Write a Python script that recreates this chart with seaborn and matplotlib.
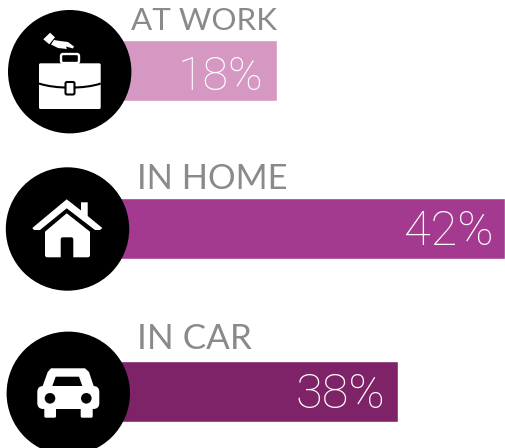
import matplotlib
matplotlib.use("Agg")
import matplotlib.pyplot as plt
import pandas as pd
import seaborn as sns
from matplotlib.patches import Circle, FancyBboxPatch, Polygon, PathPatch
from matplotlib.path import Path

categories = ["AT WORK", "IN HOME", "IN CAR"]
percent_labels = [18, 42, 38]
drawn_lengths = [18, 42, 30.7]   # bar lengths as drawn (the IN CAR bar is shorter than its label)
rows = [0.0, 1.0, 2.0336]
colors = ["#D598C2", "#A33A90", "#7F2368"]
GREY = "#8A8A8D"

W, H = 505, 448
sns.set_theme(style="white")
plt.rcParams["font.family"] = ["Lato", "DejaVu Sans"]

fig = plt.figure(figsize=(W / 100, H / 100), dpi=100)
ax = fig.add_axes([0, 0, 1, 1])

df = pd.DataFrame({"category": categories, "row": rows, "length": drawn_lengths})
sns.barplot(data=df, x="length", y="row", hue="category", palette=colors, orient="h",
            native_scale=True, dodge=False, legend=False, width=61 / 157.85, saturation=1, ax=ax)

px_per_unit = 9.5
zero_px = 106
px_per_row = 157.85
top_row_px = 70.35
ax.set_xlim(-zero_px / px_per_unit, (W - zero_px) / px_per_unit)
ax.set_ylim((H - top_row_px) / px_per_row, -top_row_px / px_per_row)
ax.axis("off")

label_offsets = [(-13.5, -6.35), (-11.8, -3.85), (-12.5, -3.35)]
label_sizes = [33.5, 35, 35]
for length, row, pct, off, size in zip(drawn_lengths, rows, percent_labels, label_offsets, label_sizes):
    ax.annotate(f"{pct}%", xy=(length, row), xytext=off, textcoords="offset pixels",
                ha="right", va="center", color="white", fontsize=size, fontweight="light",
                family=["Roboto", "DejaVu Sans"])

# Overlay in picture pixels for the round badges, icons and headings
ov = fig.add_axes([0, 0, 1, 1], facecolor="none")
ov.set_xlim(0, W)
ov.set_ylim(H, 0)
ov.axis("off")


def white(p):
    p.set(facecolor="white", edgecolor="none")
    ov.add_patch(p)


def black(p):
    p.set(facecolor="black", edgecolor="none")
    ov.add_patch(p)


def rbox(x0, y0, x1, y1, r):
    return FancyBboxPatch((x0 + r, y0 + r), x1 - x0 - 2 * r, y1 - y0 - 2 * r,
                          boxstyle=f"round,pad={r},rounding_size={r}")


for cx, cy in [(69.7, 71.7), (67.5, 229), (68.3, 393.3)]:
    black(Circle((cx, cy), 61.7))

# Headings
ov.text(131, 30, categories[0], color=GREY, fontsize=22.6, ha="left", va="baseline")
ov.text(137, 189, categories[1], color=GREY, fontsize=24.8, ha="left", va="baseline")
ov.text(137, 349, categories[2], color=GREY, fontsize=25.2, ha="left", va="baseline")

# Briefcase
white(rbox(39, 63.3, 100.7, 109, 1.5))
ov.add_patch(FancyBboxPatch((61, 54), 18, 9, boxstyle="round,pad=0,rounding_size=2",
                            facecolor="none", edgecolor="white", linewidth=1.7))
ov.add_patch(PathPatch(Path([(39, 83.5), (55, 89), (85, 89), (100.7, 83.5)],
                            [Path.MOVETO, Path.CURVE4, Path.CURVE4, Path.CURVE4]),
                       facecolor="none", edgecolor="black", linewidth=1.5))
ov.add_patch(FancyBboxPatch((65.5, 82), 9, 12.5, boxstyle="round,pad=0,rounding_size=1.5",
                            facecolor="white", edgecolor="black", linewidth=1.5))
# Hand
white(Polygon([(43.3, 39.3), (50, 32.7), (55, 37.3), (49.3, 44.3)]))
white(Polygon([(54, 40), (60, 41), (68, 42), (74, 46.5), (73, 48.5), (66, 46.5), (67, 49),
               (58, 48), (51, 44.5)]))

# House
white(Polygon([(32.3, 228), (66.7, 199.3), (81, 210.5), (81, 202.3), (87.7, 202.3), (87.7, 216),
               (102.3, 228), (100, 230), (95, 230), (66.7, 208.3), (40, 230), (34, 230)]))
white(Polygon([(45, 231.7), (66.7, 213.3), (90, 231.7), (90, 256), (88.5, 257.3), (46.5, 257.3), (45, 256)]))
black(rbox(60.7, 237.3, 73.3, 262, 2))

# Car
white(Polygon([(42.3, 387), (47.7, 372), (51, 368.3), (85, 368.3), (89, 372), (94, 387)]))
white(rbox(37.3, 386, 99.3, 409, 6))
white(rbox(44.3, 405, 56, 417.7, 1.5))
white(rbox(80.7, 405, 92.7, 417.7, 1.5))
black(Polygon([(52.3, 386), (82.3, 386), (79, 376.7), (55.7, 376.7)]))
black(Circle((50, 398.3), 5.3))
black(Circle((86.3, 398.3), 5.3))

fig.savefig("out.png", dpi=100, facecolor="white")
